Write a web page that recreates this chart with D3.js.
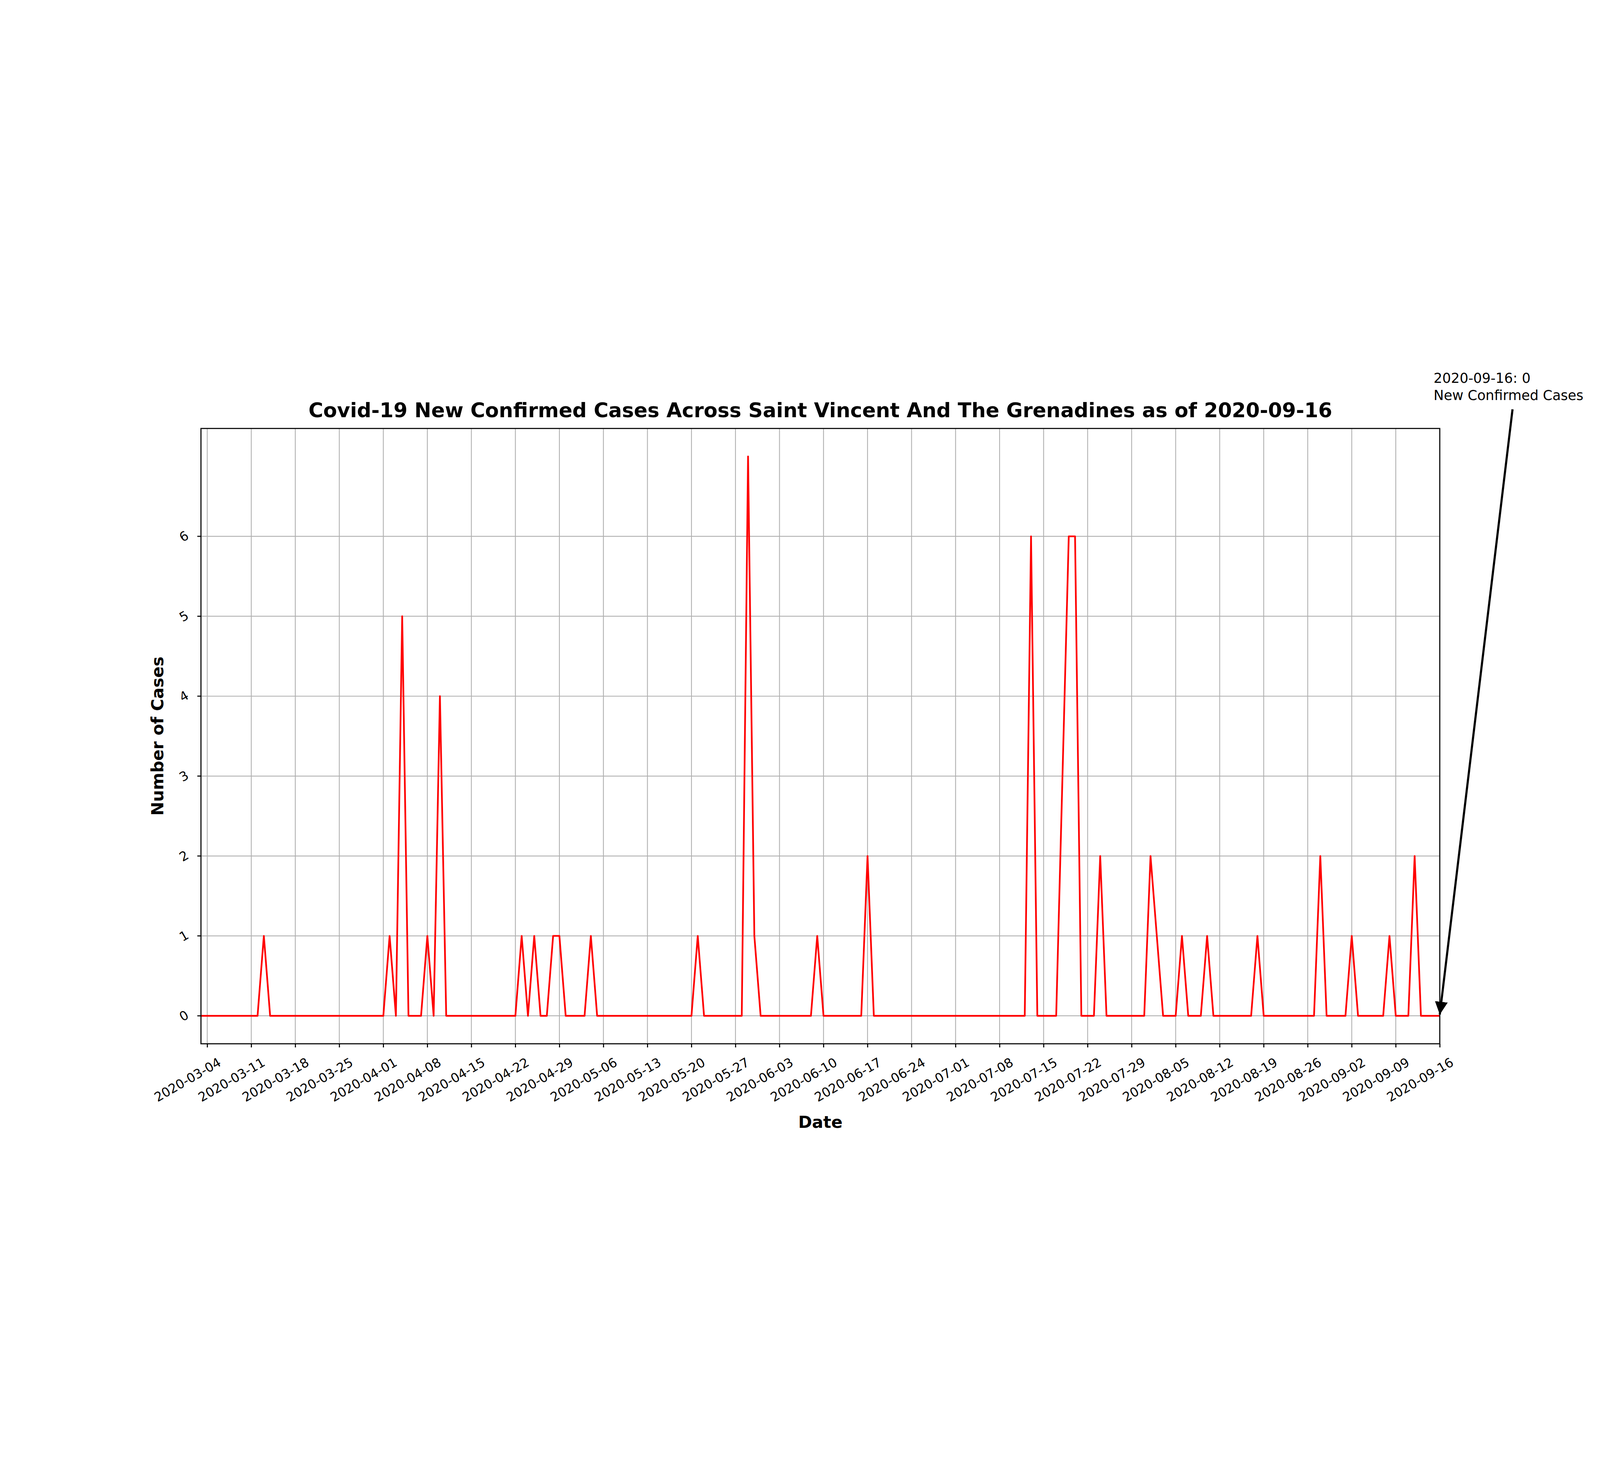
<!DOCTYPE html>
<html>
<head>
<meta charset="utf-8">
<script src="https://cdn.jsdelivr.net/npm/d3@7"></script>
<style>
  html, body { margin: 0; padding: 0; background: #fff; overflow: hidden; }
  #chart { display: block; width: 100vw; height: 100vh; }
  text { font-family: "DejaVu Sans", sans-serif; }
</style>
</head>
<body>
<svg id="chart" viewBox="0 0 7500 3750" preserveAspectRatio="xMidYMid meet"></svg>
<script>
// daily new cases, starting 2020-03-03
var startDate = "2020-03-03";
var lastDate = "2020-09-16";
// non-zero days as [day offset, cases]; all other days are 0
var spikes = [
  [10, 1], [30, 1], [32, 5], [36, 1], [38, 4],
  [51, 1], [53, 1], [56, 1], [57, 1], [62, 1],
  [79, 1], [87, 7], [88, 1], [98, 1], [106, 2],
  [132, 6], [137, 3], [138, 6], [139, 6], [143, 2],
  [151, 2], [152, 1], [156, 1], [160, 1],
  [168, 1], [178, 2], [183, 1], [189, 1], [193, 2]
];
var yTicks = [0, 1, 2, 3, 4, 5, 6];

var parse = d3.timeParse("%Y-%m-%d");
var fmt = d3.timeFormat("%Y-%m-%d");
var t0 = parse(startDate), t1 = parse(lastDate);
var nDays = d3.timeDay.count(t0, t1) + 1;
var values = new Array(nDays).fill(0);
spikes.forEach(function(s) { values[s[0]] = s[1]; });
var data = values.map(function(v, i) { return { date: d3.timeDay.offset(t0, i), value: v }; });

var svg = d3.select("#chart");
var m = { left: 942, right: 6749, top: 450, bottom: 3334 };

var x = d3.scaleTime().domain([t0, t1]).range([m.left, m.right]);
var yMax = d3.max(values);
var y = d3.scaleLinear().domain([-0.05 * yMax, yMax * 1.05]).range([m.bottom, m.top]);

var xTicks = d3.timeDay.range(parse("2020-03-04"), d3.timeDay.offset(t1, 1), 7);

// grid
svg.append("g").selectAll("line").data(xTicks).join("line")
  .attr("x1", function(d) { return x(d); }).attr("x2", function(d) { return x(d); })
  .attr("y1", m.top).attr("y2", m.bottom)
  .attr("stroke", "#b0b0b0").attr("stroke-width", 4);
svg.append("g").selectAll("line").data(yTicks).join("line")
  .attr("x1", m.left).attr("x2", m.right)
  .attr("y1", function(d) { return y(d); }).attr("y2", function(d) { return y(d); })
  .attr("stroke", "#b0b0b0").attr("stroke-width", 4);

// line
svg.append("path").datum(data)
  .attr("fill", "none").attr("stroke", "red").attr("stroke-width", 8)
  .attr("stroke-linejoin", "round")
  .attr("d", d3.line().x(function(d) { return x(d.date); }).y(function(d) { return y(d.value); }));

// axes
var xAxis = svg.append("g").attr("transform", "translate(0," + m.bottom + ")")
  .call(d3.axisBottom(x).tickValues(xTicks).tickFormat(fmt).tickSize(17).tickPadding(10));
xAxis.selectAll("text")
  .attr("font-size", 60).attr("text-anchor", "end")
  .attr("dy", "0.5em")
  .attr("transform", "translate(40,50) rotate(-30)");

var yAxis = svg.append("g").attr("transform", "translate(" + m.left + ",0)")
  .call(d3.axisLeft(y).tickValues(yTicks).tickSize(17).tickPadding(30));
yAxis.selectAll(".tick").attr("transform", null);
yAxis.selectAll(".tick line").attr("y1", function(d) { return y(d); }).attr("y2", function(d) { return y(d); });
yAxis.selectAll("text").attr("font-size", 60)
  .attr("x", -80).attr("text-anchor", "middle")
  .attr("y", function(d) { return y(d); }).attr("dy", "0.35em")
  .attr("transform", function(d) { return "rotate(-30,-80," + y(d) + ")"; });
svg.selectAll(".domain").remove();
svg.selectAll(".tick line").attr("stroke-width", 5);

// frame
svg.append("rect").attr("x", m.left).attr("y", m.top)
  .attr("width", m.right - m.left).attr("height", m.bottom - m.top)
  .attr("fill", "none").attr("stroke", "#000").attr("stroke-width", 5);

// labels
svg.append("text").attr("x", (m.left + m.right) / 2).attr("y", 398)
  .attr("text-anchor", "middle").attr("font-size", 94).attr("font-weight", "bold")
  .text("Covid-19 New Confirmed Cases Across Saint Vincent And The Grenadines as of " + lastDate);
svg.append("text").attr("x", (m.left + m.right) / 2).attr("y", 3728)
  .attr("text-anchor", "middle").attr("font-size", 78).attr("font-weight", "bold").text("Date");
svg.append("text").attr("transform", "translate(765," + ((m.top + m.bottom) / 2) + ") rotate(-90)")
  .attr("text-anchor", "middle").attr("font-size", 78).attr("font-weight", "bold").text("Number of Cases");

// annotation for last value
var last = data[data.length - 1];
var tx = 6720, ty = 236;
svg.append("defs").append("marker").attr("id", "head")
  .attr("viewBox", "0 0 10 10").attr("refX", 10).attr("refY", 5)
  .attr("markerWidth", 6).attr("markerHeight", 6).attr("markerUnits", "strokeWidth")
  .attr("orient", "auto")
  .append("path").attr("d", "M0,0 L10,5 L0,10 Z").attr("fill", "#000");
svg.append("line").attr("x1", 7090).attr("y1", 360)
  .attr("x2", x(last.date)).attr("y2", y(last.value) - 6)
  .attr("stroke", "#000").attr("stroke-width", 10).attr("marker-end", "url(#head)");
svg.append("text").attr("x", tx).attr("y", ty).attr("font-size", 64)
  .text(fmt(last.date) + ": " + last.value);
svg.append("text").attr("x", tx).attr("y", ty + 80).attr("font-size", 64)
  .text("New Confirmed Cases");
</script>
</body>
</html>
